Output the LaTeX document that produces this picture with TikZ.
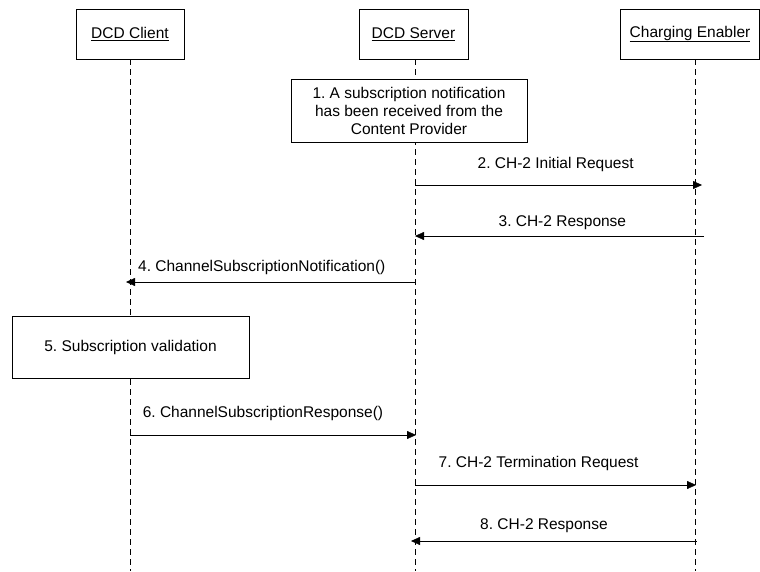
\documentclass[tikz,border=0pt]{standalone}
\usepackage{fontspec}
\setmainfont{Liberation Sans}
\usetikzlibrary{arrows.meta}
\usetikzlibrary{positioning}
\tikzset{
  actor/.style={draw, thin, minimum width=108pt, minimum height=50pt, inner sep=0pt, font=\fontsize{15.5}{18}\selectfont},
  notebox/.style={draw, thin, align=center, inner sep=0pt, font=\fontsize{15.5}{18}\selectfont},
  lifeline/.style={draw, thin, dash pattern=on 6pt off 4pt},
  msg/.style={draw, thin, -{Triangle[length=9pt,width=8pt]}},
  msglabel/.style={font=\fontsize{15.5}{18}\selectfont, inner sep=0pt}
}

\begin{document}
\frenchspacing
\begin{tikzpicture}[x=1pt, y=-1pt]
  \useasboundingbox (0,0) rectangle (760,571);
  % Nodes
  \node[actor] (client) at (130,34) {\underline{DCD Client}};
  \node[actor, minimum width=109pt] (server) at (413.5,34) {\underline{DCD Server}};
  \node[actor, minimum width=139pt] (charging) at (690,34) {\underline{Charging Enabler}};

  % lifeline ends
  \coordinate (clientend) at (130,571);
  \coordinate (serverend) at (415,571);
  \coordinate (chargingend) at (695,571);

  \draw[lifeline] (client.south) -- (clientend);
  \draw[lifeline] (server.south -| serverend) -- (serverend);
  \draw[lifeline] (charging.south -| chargingend) -- (chargingend);

  \node[notebox, fill=white, minimum width=236pt, minimum height=63pt] (received) at (409,110.5) {1. A subscription notification\\has been received from the\\Content Provider};
  \node[notebox, fill=white, minimum width=237pt, minimum height=62pt] (validation) at (130.5,347) {5. Subscription validation};

  % message end points
  \coordinate (m2a) at (415,185); \coordinate (m2b) at (702,185);
  \coordinate (m3a) at (704,236); \coordinate (m3b) at (415,236);
  \coordinate (m4a) at (415,282); \coordinate (m4b) at (126,282);
  \coordinate (m6a) at (130,435); \coordinate (m6b) at (416,435);
  \coordinate (m7a) at (415,485); \coordinate (m7b) at (696,485);
  \coordinate (m8a) at (697,541); \coordinate (m8b) at (411,541);

  % Connecting lines
  \draw[msg] (m2a) -- (m2b) node[msglabel, pos=0.49, above=13.5pt] {2. CH-2 Initial Request};
  \draw[msg] (m3a) -- (m3b) node[msglabel, pos=0.49, above=6.5pt] {3. CH-2 Response};
  \draw[msg] (m4a) -- (m4b) node[msglabel, pos=0.53, above=7.5pt] {4. ChannelSubscriptionNotification()};
  \draw[msg] (m6a) -- (m6b) node[msglabel, pos=0.465, above=14.5pt] {6. ChannelSubscriptionResponse()};
  \draw[msg] (m7a) -- (m7b) node[msglabel, pos=0.44, above=14.5pt] {7. CH-2 Termination Request};
  \draw[msg] (m8a) -- (m8b) node[msglabel, pos=0.535, above=8.5pt] {8. CH-2 Response};
\end{tikzpicture}
\end{document}
